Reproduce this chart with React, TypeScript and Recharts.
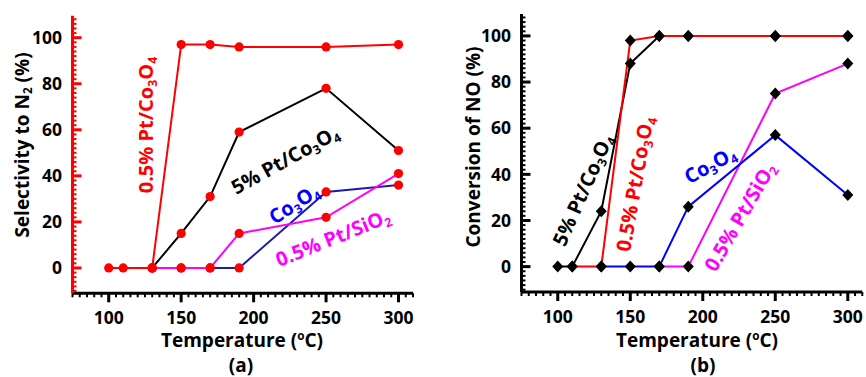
import React from "react"
import { LineChart, Line, XAxis, YAxis } from "recharts"

// temperatures (°C) and values
// panel (a): selectivity to N2 (%)
const aPt05Temp = [100, 110, 130, 150, 170, 190, 250, 300]
const aPt05Val = [0, 0, 0, 97, 97, 96, 96, 97]
const aPt5Temp = [130, 150, 170, 190, 250, 300]
const aPt5Val = [0, 15, 31, 59, 78, 51]
const aCoTemp = [130, 150, 170, 190, 250, 300]
const aCoVal = [0, 0, 0, 0, 33, 36]
const aSiTemp = [130, 150, 170, 190, 250, 300]
const aSiVal = [0, 0, 0, 15, 22, 41]

// panel (b): conversion of NO (%)
const bPt5Temp = [100, 110, 130, 150, 170, 190, 250, 300]
const bPt5Val = [0, 0, 24, 88, 100, 100, 100, 100]
const bPt05Temp = [110, 130, 150, 170, 190, 250, 300]
const bPt05Val = [0, 0, 98, 100, 100, 100, 100]
const bCoTemp = [130, 150, 170, 190, 250, 300]
const bCoVal = [0, 0, 0, 26, 57, 31]
const bSiTemp = [170, 190, 250, 300]
const bSiVal = [0, 0, 75, 88]

const xMajor = [100, 150, 200, 250, 300]
const yMajor = [0, 20, 40, 60, 80, 100]
const X_DOMAIN: [number, number] = [75, 310]
const Y_DOMAIN: [number, number] = [-11, 109.5]

const xAll: number[] = []
for (let v = 75; v <= 310; v += 5) xAll.push(v)
const yAll: number[] = []
for (let v = -10; v <= 108; v += 2) yAll.push(v)

const FONT = "'Open Sans', Lato, sans-serif"

const zip = (t: number[], v: number[]) => t.map((temp, i) => ({ temp, v: v[i] }))

const BottomTick = (props: any) => {
  const { x, y, payload } = props
  const major = xMajor.includes(payload.value)
  return (
    <g>
      <line x1={x} x2={x} y1={y} y2={y + (major ? 9 : 4)} stroke="#000" strokeWidth={major ? 3 : 2} />
      {major && (
        <text x={x} y={y + 30.5} textAnchor="middle" fill="#000" fontFamily={FONT} fontWeight="bold" fontSize={17.5}>
          {payload.value}
        </text>
      )}
    </g>
  )
}

const TopTick = (props: any) => {
  const { x, y, payload } = props
  const major = xMajor.includes(payload.value)
  return <line x1={x} x2={x} y1={y} y2={y + (major ? 9 : 4)} stroke="#000" strokeWidth={major ? 3 : 2} />
}

const leftTick = (color: string) => (props: any) => {
  const { x, y, payload } = props
  const major = yMajor.includes(payload.value)
  return (
    <g>
      <line x1={x} x2={x + (major ? 9 : 4)} y1={y} y2={y} stroke={color} strokeWidth={major ? 3 : 2} />
      {major && (
        <text x={x - 10.5} y={y + 6.3} textAnchor="end" fill="#000" fontFamily={FONT} fontWeight="bold" fontSize={17.5}>
          {payload.value}
        </text>
      )}
    </g>
  )
}

const Diamond = (props: any) => {
  const { cx, cy } = props
  if (cx == null || cy == null) return null
  return <polygon points={`${cx},${cy - 6} ${cx + 5.5},${cy} ${cx},${cy + 6} ${cx - 5.5},${cy}`} fill="#000" />
}

const redDot = { r: 4.6, fill: "#ff0000", stroke: "#ff0000", strokeWidth: 0 }

function Axes({ leftColor }: { leftColor: string }) {
  return (
    <>
      <XAxis
        dataKey="temp"
        type="number"
        domain={X_DOMAIN}
        allowDataOverflow
        ticks={xAll}
        interval={0}
        height={40}
        tickSize={0}
        tickMargin={0}
        tickLine={false}
        tick={BottomTick}
        axisLine={{ stroke: "#000", strokeWidth: 3 }}
      />
      <XAxis
        xAxisId="top"
        orientation="top"
        dataKey="temp"
        type="number"
        domain={X_DOMAIN}
        allowDataOverflow
        ticks={xAll}
        interval={0}
        height={0}
        tickSize={0}
        tickMargin={0}
        tickLine={false}
        tick={TopTick}
        axisLine={{ stroke: "#000", strokeWidth: 3 }}
      />
      <YAxis
        type="number"
        domain={Y_DOMAIN}
        allowDataOverflow
        ticks={yAll}
        interval={0}
        width={50}
        tickSize={0}
        tickMargin={0}
        tickLine={false}
        tick={leftTick(leftColor)}
        axisLine={{ stroke: leftColor, strokeWidth: 3 }}
      />
      <YAxis
        yAxisId="right"
        orientation="right"
        type="number"
        domain={Y_DOMAIN}
        width={0}
        tick={false}
        tickLine={false}
        axisLine={{ stroke: "#000", strokeWidth: 3 }}
      />
    </>
  )
}

const Sub = ({ children }: { children: React.ReactNode }) => (
  <span style={{ fontSize: "0.62em", verticalAlign: "-0.3em", lineHeight: 0 }}>{children}</span>
)
const Sup = ({ children }: { children: React.ReactNode }) => (
  <span style={{ fontSize: "0.62em", verticalAlign: "0.55em", lineHeight: 0 }}>{children}</span>
)

function Tag({ x, y, rot, color, size, children }: any) {
  return (
    <div
      style={{
        position: "absolute",
        left: x,
        top: y,
        transform: `translate(-50%, -50%) rotate(${rot}deg)`,
        whiteSpace: "nowrap",
        color,
        fontFamily: FONT,
        fontWeight: "bold",
        fontSize: size,
        lineHeight: 1,
      }}
    >
      {children}
    </div>
  )
}

export default function App() {
  return (
    <div style={{ position: "absolute", left: 0, top: 0, width: 866, height: 377, background: "#fff", overflow: "hidden" }}>
      <div style={{ position: "absolute", left: 0, top: 0 }}>
        <LineChart width={430} height={377} margin={{ top: 15.8, right: 17, bottom: 43.7, left: 22.5 }}>
          {Axes({ leftColor: "#ff0000" })}
          <Line data={zip(aCoTemp, aCoVal)} dataKey="v" stroke="#1c1ca8" strokeWidth={2} dot={redDot} isAnimationActive={false} />
          <Line data={zip(aPt5Temp, aPt5Val)} dataKey="v" stroke="#000" strokeWidth={2} dot={redDot} isAnimationActive={false} />
          <Line data={zip(aSiTemp, aSiVal)} dataKey="v" stroke="#ff00ff" strokeWidth={2} dot={redDot} isAnimationActive={false} />
          <Line data={zip(aPt05Temp, aPt05Val)} dataKey="v" stroke="#ff0000" strokeWidth={2} dot={redDot} isAnimationActive={false} />
        </LineChart>
      </div>
      <div style={{ position: "absolute", left: 430, top: 0 }}>
        <LineChart width={436} height={377} margin={{ top: 14, right: 3.7, bottom: 45, left: 41.5 }}>
          {Axes({ leftColor: "#000" })}
          <Line data={zip(bSiTemp, bSiVal)} dataKey="v" stroke="#ff00ff" strokeWidth={2} dot={<Diamond />} isAnimationActive={false} />
          <Line data={zip(bCoTemp, bCoVal)} dataKey="v" stroke="#0000ff" strokeWidth={2} dot={<Diamond />} isAnimationActive={false} />
          <Line data={zip(bPt5Temp, bPt5Val)} dataKey="v" stroke="#000" strokeWidth={2} dot={<Diamond />} isAnimationActive={false} />
          <Line data={zip(bPt05Temp, bPt05Val)} dataKey="v" stroke="#ff0000" strokeWidth={2} dot={<Diamond />} isAnimationActive={false} />
        </LineChart>
      </div>

      {/* axis titles */}
      <Tag x={22} y={145} rot={-90} color="#000" size={19}>Selectivity to N<Sub>2</Sub> (%)</Tag>
      <Tag x={242} y={340} rot={0} color="#000" size={19}>Temperature (<Sup>o</Sup>C)</Tag>
      <Tag x={241} y={364.5} rot={0} color="#000" size={19}>(a)</Tag>
      <Tag x={473} y={146.5} rot={-90} color="#000" size={19}>Conversion of NO (%)</Tag>
      <Tag x={697} y={340} rot={0} color="#000" size={19}>Temperature (<Sup>o</Sup>C)</Tag>
      <Tag x={703} y={364.5} rot={0} color="#000" size={19}>(b)</Tag>

      {/* series labels, panel (a) */}
      <Tag x={146} y={125} rot={-90} color="#ff0000" size={20}>0.5% Pt/Co<Sub>3</Sub>O<Sub>4</Sub></Tag>
      <Tag x={285} y={160} rot={-29} color="#000" size={20}>5% Pt/Co<Sub>3</Sub>O<Sub>4</Sub></Tag>
      <Tag x={294} y={204} rot={-33} color="#0000ff" size={20}>Co<Sub>3</Sub>O<Sub>4</Sub></Tag>
      <Tag x={333} y={238} rot={-22} color="#ff00ff" size={20}>0.5% Pt/SiO<Sub>2</Sub></Tag>

      {/* series labels, panel (b) */}
      <Tag x={583} y={190} rot={-66} color="#000" size={20}>5% Pt/Co<Sub>3</Sub>O<Sub>4</Sub></Tag>
      <Tag x={635} y={184} rot={-80} color="#ff0000" size={20}>0.5% Pt/Co<Sub>3</Sub>O<Sub>4</Sub></Tag>
      <Tag x={710} y={165} rot={-29} color="#0000ff" size={20}>Co<Sub>3</Sub>O<Sub>4</Sub></Tag>
      <Tag x={740} y={217} rot={-60} color="#ff00ff" size={20}>0.5% Pt/SiO<Sub>2</Sub></Tag>
    </div>
  )
}
